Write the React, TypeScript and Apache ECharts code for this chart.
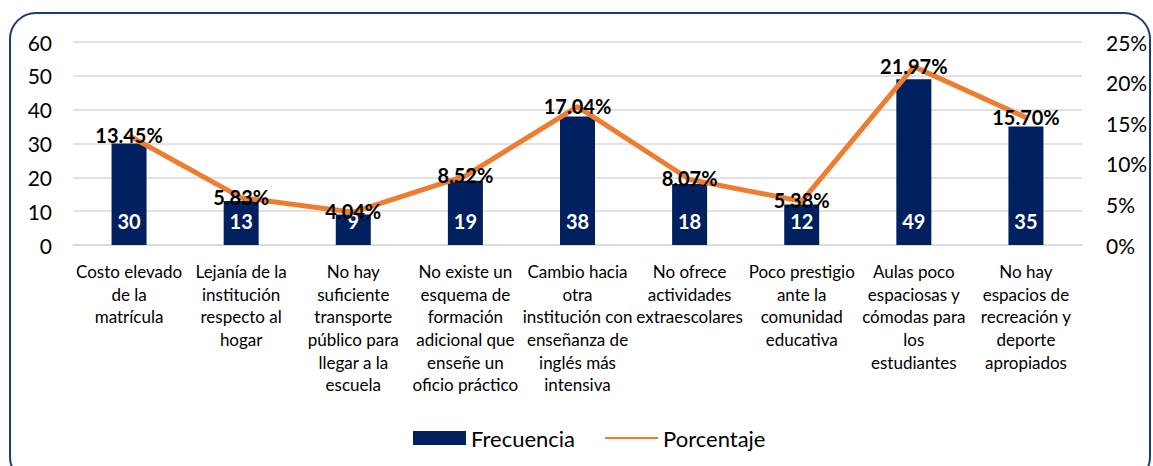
import React, { useEffect, useRef } from "react";
import * as echarts from "echarts";

const categories = [
  "Costo elevado\nde la\nmatrícula",
  "Lejanía de la\ninstitución\nrespecto al\nhogar",
  "No hay\nsuficiente\ntransporte\npúblico para\nllegar a la\nescuela",
  "No existe un\nesquema de\nformación\nadicional que\nenseñe un\noficio práctico",
  "Cambio hacia\notra\ninstitución con\nenseñanza de\ninglés más\nintensiva",
  "No ofrece\nactividades\nextraescolares",
  "Poco prestigio\nante la\ncomunidad\neducativa",
  "Aulas poco\nespaciosas y\ncómodas para\nlos\nestudiantes",
  "No hay\nespacios de\nrecreación y\ndeporte\napropiados",
];
const frecuencia = [30, 13, 9, 19, 38, 18, 12, 49, 35];
const porcentaje = [13.45, 5.83, 4.04, 8.52, 17.04, 8.07, 5.38, 21.97, 15.7];
const leftTicks = [0, 10, 20, 30, 40, 50, 60];
const rightTicks = [0, 5, 10, 15, 20, 25];

const FONT = "Lato, 'Open Sans', sans-serif";

export default function App() {
  const ref = useRef<HTMLDivElement>(null);
  useEffect(() => {
    document.body.style.margin = "0";
    const chart = echarts.init(ref.current!, undefined, { renderer: "svg" });
    chart.setOption({
      animation: false,
      backgroundColor: "#ffffff",
      textStyle: { fontFamily: FONT },
      graphic: [
        {
          type: "rect",
          shape: { x: 10, y: 13, width: 1140, height: 470, r: 26 },
          style: { fill: "none", stroke: "#1F3B73", lineWidth: 2 },
          z: 0,
        },
      ],
      legend: {
        left: 408,
        top: 422,
        itemWidth: 53,
        itemHeight: 14,
        itemGap: 29,
        textStyle: { fontSize: 22, color: "#000", fontFamily: FONT },
        data: [
          { name: "Frecuencia", icon: "rect" },
          { name: "Porcentaje", itemStyle: { opacity: 0 } },
        ],
      },
      grid: { left: 73, right: 71, top: 42, bottom: 221, containLabel: false },
      xAxis: {
        type: "category",
        data: categories,
        axisTick: { show: false },
        axisLine: { show: true, lineStyle: { color: "#D9D9D9", width: 1.5 } },
        axisLabel: {
          interval: 0,
          fontSize: 17,
          lineHeight: 22.7,
          color: "#000",
          margin: 15,
          align: "center",
          fontFamily: FONT,
        },
      },
      yAxis: [
        {
          type: "value",
          min: leftTicks[0],
          max: leftTicks[leftTicks.length - 1],
          interval: 10,
          axisLabel: { fontSize: 21, color: "#000", margin: 21, fontFamily: FONT },
          splitLine: { lineStyle: { color: "#D9D9D9", width: 1.5 } },
          axisLine: { show: false },
          axisTick: { show: false },
        },
        {
          type: "value",
          min: rightTicks[0],
          max: rightTicks[rightTicks.length - 1],
          interval: 5,
          axisLabel: {
            fontSize: 21,
            color: "#000",
            margin: 24,
            fontFamily: FONT,
            formatter: (v: number) => `${v}%`,
          },
          splitLine: { show: false },
          axisLine: { show: false },
          axisTick: { show: false },
        },
      ],
      series: [
        {
          name: "Frecuencia",
          type: "bar",
          data: frecuencia,
          barWidth: 35,
          itemStyle: { color: "#002060" },
          label: {
            show: true,
            position: "insideBottom",
            distance: 14,
            color: "#fff",
            fontWeight: "bold",
            fontSize: 20,
            fontFamily: FONT,
          },
          z: 2,
        },
        {
          name: "Porcentaje",
          type: "line",
          yAxisIndex: 1,
          data: porcentaje,
          symbol: "circle",
          symbolSize: 0,
          showSymbol: true,
          itemStyle: { color: "#ED7D31" },
          lineStyle: { color: "#ED7D31", width: 5 },
          label: {
            show: true,
            position: "top",
            distance: -9,
            color: "#000",
            fontWeight: "bold",
            fontSize: 20,
            fontFamily: FONT,
            formatter: (p: any) => `${p.value.toFixed(2)}%`,
          },
          z: 3,
        },
      ],
    });
    return () => chart.dispose();
  }, []);
  return <div ref={ref} style={{ width: 1153, height: 466 }} />;
}
